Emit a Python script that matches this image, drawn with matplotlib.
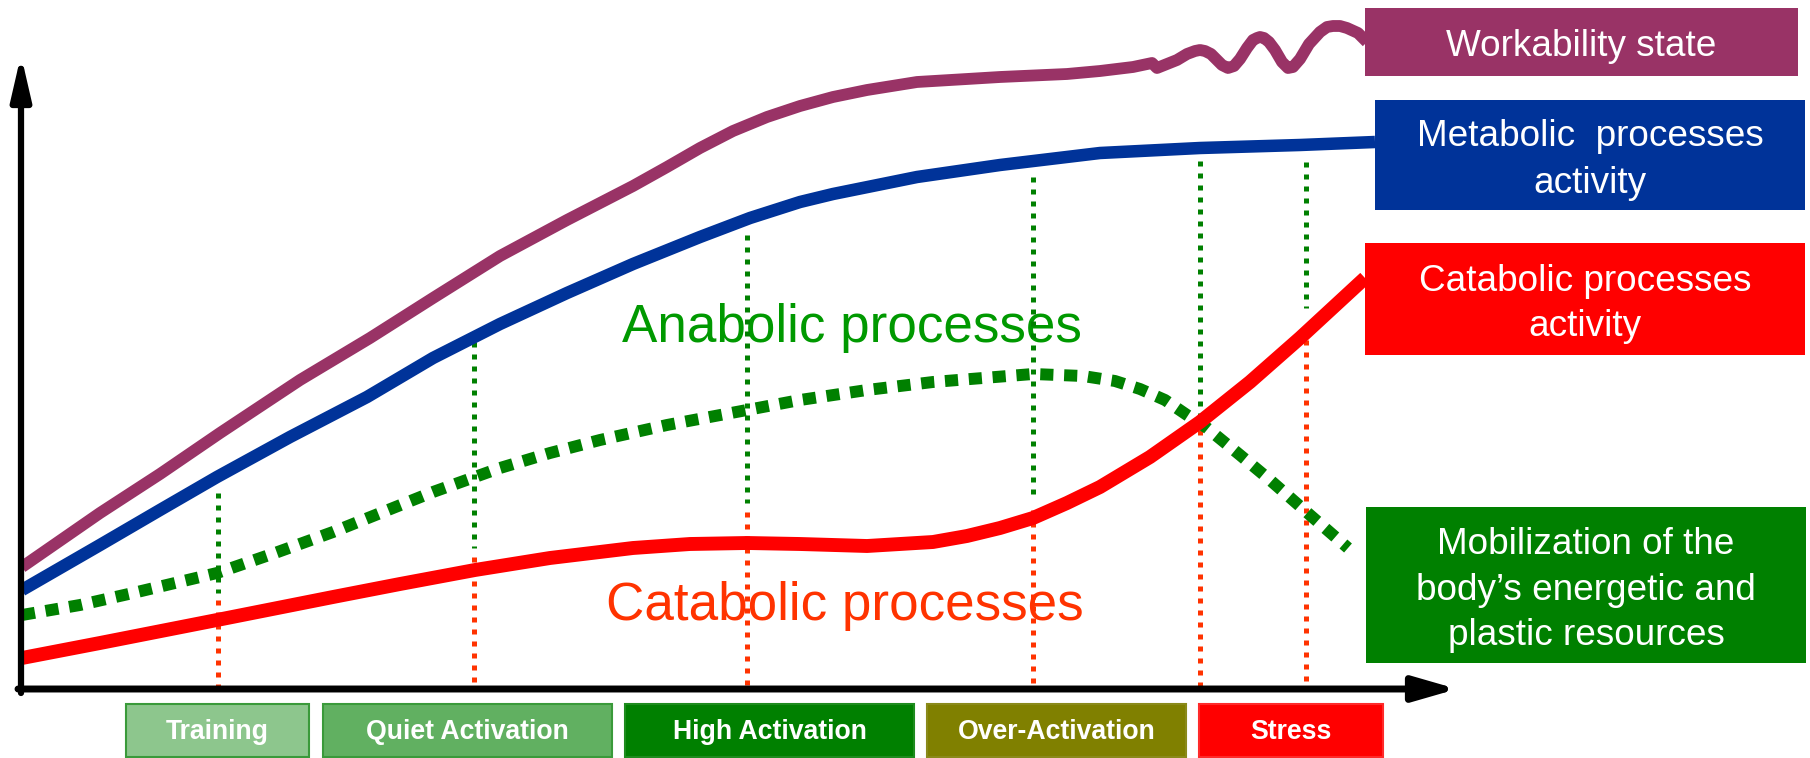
import matplotlib
matplotlib.use("Agg")
import matplotlib.pyplot as plt
from matplotlib.patches import Rectangle

plt.rcParams['font.family'] = ['Liberation Sans', 'DejaVu Sans']

# curves: x = time along the axis, y = level above the axis
work_x = [1, 79, 139, 199, 279, 349, 412, 479, 546, 612, 646, 679, 712, 746,
          779, 812, 846, 896, 946, 979, 1046, 1079, 1112, 1131,
          1136, 1156, 1166, 1174, 1179, 1184, 1190, 1196, 1201, 1207, 1213,
          1219, 1226, 1232, 1236, 1239, 1243, 1248, 1254, 1261, 1267, 1272,
          1279, 1288, 1299, 1306, 1312, 1319, 1326, 1337, 1346]
work_y = [122, 176, 215, 256, 309, 351, 391, 433, 469, 503, 522, 541, 558, 572,
          583, 592, 599, 607, 610, 612, 615, 618, 622, 626,
          621, 629, 635, 638, 639, 638, 635, 629, 624, 621, 623,
          630, 641, 649, 651, 652, 651, 647, 639, 627, 621, 622,
          630, 645, 657, 662, 663, 663, 661, 656, 647]

metab_x = [1, 79, 139, 196, 269, 346, 412, 479, 546, 612, 679, 729, 779, 812,
           896, 979, 1079, 1179, 1279, 1354]
metab_y = [99, 144, 179, 212, 252, 292, 331, 365, 396, 425, 452, 471, 487, 495,
           512, 524, 536, 541, 544, 547]

anab_x = [1, 59, 112, 196, 254, 312, 412, 479, 529, 579, 646, 726, 779, 846,
          912, 962, 1012, 1062, 1094, 1119, 1144, 1166, 1186, 1219, 1249,
          1289, 1327]
anab_y = [74, 84, 96, 116, 136, 157, 197, 221, 236, 249, 264, 279, 289, 299,
          307, 311, 315, 313, 308, 300, 289, 274, 261, 234, 209, 174, 141]

catab_x = [1, 79, 196, 312, 379, 454, 529, 612, 669, 726, 779, 846, 912, 946,
           979, 1012, 1046, 1079, 1129, 1179, 1229, 1279, 1344]
catab_y = [31, 46, 69, 92, 105, 119, 131, 141, 145, 146, 145, 143, 147, 153,
           161, 171, 186, 202, 232, 267, 307, 351, 411]

# stage borders: green above, orange-red below
mark_x = [197, 453, 726, 1012, 1179, 1285]
mark_top = [196, 347, 454, 512, 528, 527]
mark_green_end = [96, 141, 186, 189, 274, 381]
mark_red_start = [89, 132, 177, 179, 259, 349]

stage_names = ['Training', 'Quiet Activation', 'High Activation', 'Over-Activation', 'Stress']
stage_start = [105, 302, 604, 906, 1178]
stage_end = [288, 591, 893, 1165, 1362]
stage_colors = ['#8DC68D', '#61B061', '#008000', '#808000', '#FF0000']
stage_edges = ['#3A9A3A', '#3A9A3A', '#1E8C1E', '#8A8A1A', '#FF2A2A']

label_texts = ['Workability state', 'Metabolic  processes\nactivity',
               'Catabolic processes\nactivity',
               'Mobilization of the\nbody\u2019s energetic and\nplastic resources']
label_colors = ['#993366', '#003399', '#FF0000', '#008000']
label_spacing = [1.2, 1.45, 1.4, 1.38]
label_left = [1344, 1354, 1344, 1345]
label_right = [1777, 1784, 1784, 1785]
label_bottom = [613, 479, 334, 26]
label_top = [681, 589, 446, 182]

fig = plt.figure(figsize=(18.1, 7.58), dpi=100)
ax = fig.add_axes([0, 0, 1, 1])
ax.set_xlim(-21, 1789)
ax.set_ylim(-69, 689)
ax.axis('off')

# big in-plot labels
ax.text(601, 347, 'Anabolic processes', color='#009900', fontsize=38.2,
        va='baseline', ha='left', zorder=1)
ax.text(585, 69, 'Catabolic processes', color='#FF3300', fontsize=38.2,
        va='baseline', ha='left', zorder=1)

# vertical stage markers
for x, top, g_end, r_start in zip(mark_x, mark_top, mark_green_end, mark_red_start):
    ax.plot([x, x], [top, g_end], color='#008000', lw=3.6,
            linestyle=(0, (1, 1.4)), zorder=2)
    ax.plot([x, x], [r_start, 0], color='#FF3300', lw=3.6,
            linestyle=(0, (1, 1.4)), zorder=2)

# curves
ax.plot(anab_x, anab_y, color='#008000', lw=8.6, linestyle=(0, (1.1, 0.9)), zorder=3)
ax.plot(catab_x, catab_y, color='#FF0000', lw=10, solid_capstyle='butt',
        solid_joinstyle='round', zorder=3)
ax.plot(metab_x, metab_y, color='#003399', lw=9, solid_capstyle='butt',
        solid_joinstyle='round', zorder=3)
ax.plot(work_x, work_y, color='#993366', lw=8.5, solid_capstyle='butt',
        solid_joinstyle='round', zorder=3)

# axes arrows
ax.annotate('', xy=(0, 634), xytext=(0, -4),
            arrowprops=dict(arrowstyle='-|>,head_length=26,head_width=6',
                            mutation_scale=1, lw=4.5, color='black',
                            shrinkA=0, shrinkB=0), zorder=4)
ax.annotate('', xy=(1436, 0), xytext=(-3, 0),
            arrowprops=dict(arrowstyle='-|>,head_length=26,head_width=7.5',
                            mutation_scale=1, lw=5, color='black',
                            shrinkA=0, shrinkB=0), zorder=4)

# right-hand labels
for txt, col, sp, l, r, b, t in zip(label_texts, label_colors, label_spacing,
                                    label_left, label_right, label_bottom, label_top):
    ax.add_patch(Rectangle((l, b), r - l, t - b, facecolor=col,
                           edgecolor='none', zorder=5))
    ax.text((l + r) / 2, (b + t) / 2 - 5, txt, color='white', fontsize=26.6,
            ha='center', va='center', linespacing=sp, zorder=6)

# stage boxes under the axis
for name, s, e, col, ec in zip(stage_names, stage_start, stage_end,
                               stage_colors, stage_edges):
    ax.add_patch(Rectangle((s, -68), e - s, 53, facecolor=col, edgecolor=ec,
                           lw=1.5, zorder=5))
    ax.text((s + e) / 2, -43, name, color='white', fontsize=19.2,
            fontweight='bold', ha='center', va='center', zorder=6)

fig.savefig('out.png', dpi=100)
